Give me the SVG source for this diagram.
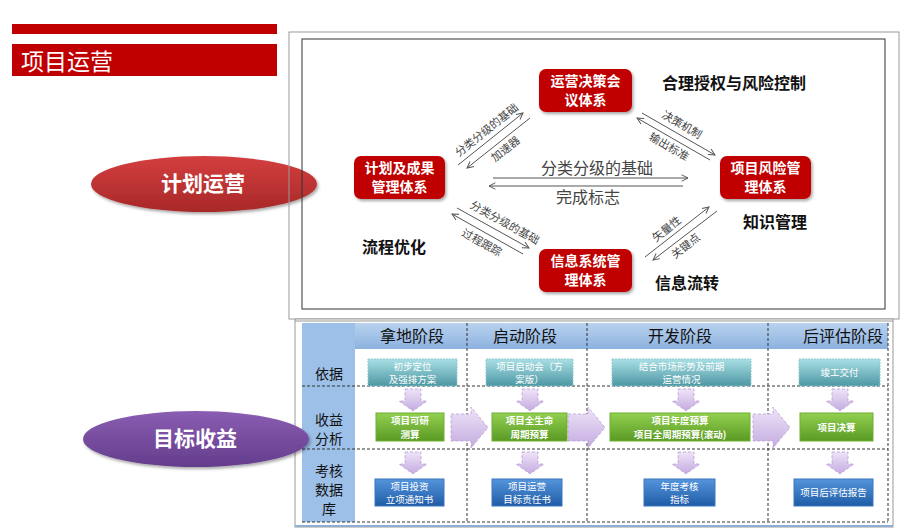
<svg xmlns="http://www.w3.org/2000/svg" width="923" height="529" viewBox="0 0 923 529">
<defs>
  <linearGradient id="gRedEl" x1="0" y1="0" x2="0" y2="1"><stop offset="0" stop-color="#d43f3f"/><stop offset="1" stop-color="#a82828"/></linearGradient>
  <linearGradient id="gPurEl" x1="0" y1="0" x2="0" y2="1"><stop offset="0" stop-color="#8a5db2"/><stop offset="1" stop-color="#643d8c"/></linearGradient>
  <linearGradient id="gHead" x1="0" y1="0" x2="0" y2="1"><stop offset="0" stop-color="#b9d2ef"/><stop offset="1" stop-color="#8cb2df"/></linearGradient>
  <linearGradient id="gTeal" x1="0" y1="0" x2="0" y2="1"><stop offset="0" stop-color="#a9dfe5"/><stop offset="1" stop-color="#4d97a3"/></linearGradient>
  <linearGradient id="gGreen" x1="0" y1="0" x2="0" y2="1"><stop offset="0" stop-color="#92d050"/><stop offset="1" stop-color="#5a9a24"/></linearGradient>
  <linearGradient id="gBlue" x1="0" y1="0" x2="0" y2="1"><stop offset="0" stop-color="#5595dc"/><stop offset="1" stop-color="#1f5ca6"/></linearGradient>
  <linearGradient id="gLav" x1="0" y1="0" x2="0" y2="1"><stop offset="0" stop-color="#eee4f8"/><stop offset="1" stop-color="#c4abe0"/></linearGradient>
  <filter id="sh" x="-20%" y="-20%" width="140%" height="150%"><feDropShadow dx="1.5" dy="2" stdDeviation="1.5" flood-color="#000" flood-opacity="0.35"/></filter>
  <marker id="ah" viewBox="0 0 10 10" refX="9" refY="5" markerWidth="8" markerHeight="8" orient="auto" markerUnits="userSpaceOnUse">
    <path d="M1,1 L9,5 L1,9" fill="none" stroke="#555" stroke-width="1.2"/>
  </marker>
  <path id="darr" d="M-8,0 H8 V12 H14 L0,22 L-14,12 H-8 Z"/>
  <path id="chev" d="M0,7 H20 V0 L37,20.5 L20,41 V34 H0 Z"/>
</defs>
<style>
  .cjk{font-family:"Noto Sans CJK SC","Noto Sans",sans-serif}
  .node rect{fill:#c00000;filter:url(#sh)}
  .node text{fill:#fff;font-size:14px;font-weight:bold;text-anchor:middle}
  .side{font-size:16px;font-weight:bold;fill:#111}
  .lbl{font-size:11px;fill:#444;text-anchor:middle}
  .conn line{stroke:#555;stroke-width:1;marker-end:url(#ah)}
  .hl{font-size:16px;fill:#444;text-anchor:middle}
  .dash{stroke:#333;stroke-width:1;stroke-dasharray:3,2;fill:none}
  .hdr{font-size:16px;fill:#111;text-anchor:middle}
  .rowl{font-size:14px;fill:#111;text-anchor:middle}
  .teal rect{fill:url(#gTeal);stroke:#8fc9cf;stroke-dasharray:2,1}
  .green rect{fill:url(#gGreen);stroke:#6fae34}
  .blue rect{fill:url(#gBlue);stroke:#3b77c0}
  .bx text{fill:#fff;font-size:9.5px;text-anchor:middle}
  .green text{font-weight:bold}
  .lav{fill:url(#gLav);stroke:#b9a0d6;stroke-width:0.8;stroke-dasharray:3,2}
</style>
<rect width="923" height="529" fill="#fff"/>

<!-- title -->
<g id="title">
  <rect x="12" y="24" width="265" height="10" fill="#c00000"/>
  <rect x="12" y="44" width="265" height="32" fill="#c00000"/>
  <text class="cjk" x="21" y="70" font-size="23" fill="#fff">项目运营</text>
</g>

<!-- ellipse 计划运营 -->
<g id="plan-ellipse">
  <ellipse cx="204" cy="184" rx="113" ry="28" fill="url(#gRedEl)" filter="url(#sh)"/>
  <text class="cjk" x="203" y="191" font-size="21" font-weight="bold" fill="#fff" text-anchor="middle">计划运营</text>
</g>

<!-- frames -->
<rect x="289" y="32" width="610" height="287" fill="none" stroke="#999" stroke-width="1"/>
<rect x="302" y="39" width="583" height="270" fill="none" stroke="#333" stroke-width="1"/>

<!-- nodes -->
<g id="n-decision" class="node cjk">
  <rect x="539" y="69" width="93" height="43" rx="7"/>
  <text x="585.5" y="86">运营决策会</text>
  <text x="585.5" y="105">议体系</text>
</g>
<g id="n-plan" class="node cjk">
  <rect x="354" y="156" width="91" height="43" rx="7"/>
  <text x="399.5" y="173">计划及成果</text>
  <text x="399.5" y="192">管理体系</text>
</g>
<g id="n-risk" class="node cjk">
  <rect x="720" y="156" width="91" height="43" rx="7"/>
  <text x="765.5" y="173">项目风险管</text>
  <text x="765.5" y="192">理体系</text>
</g>
<g id="n-info" class="node cjk">
  <rect x="539" y="249" width="93" height="43" rx="7"/>
  <text x="585.5" y="266">信息系统管</text>
  <text x="585.5" y="285">理体系</text>
</g>

<!-- side texts -->
<g id="t-auth"><text class="cjk side" x="662" y="89">合理授权与风险控制</text></g>
<g id="t-know"><text class="cjk side" x="743" y="228">知识管理</text></g>
<g id="t-flow"><text class="cjk side" x="655" y="289">信息流转</text></g>
<g id="t-opt"><text class="cjk side" x="362" y="253">流程优化</text></g>

<!-- connectors -->
<g id="connectors" class="conn">
  <line x1="493" y1="178" x2="688" y2="178"/>
  <line x1="683" y1="186" x2="489" y2="186"/>
  <line x1="458" y1="165" x2="523" y2="113"/>
  <line x1="530" y1="118" x2="467" y2="168"/>
  <line x1="642" y1="113" x2="715" y2="155"/>
  <line x1="710" y1="160" x2="637" y2="118"/>
  <line x1="457" y1="208" x2="529" y2="248"/>
  <line x1="523" y1="254" x2="452" y2="214"/>
  <line x1="645" y1="257" x2="709" y2="207"/>
  <line x1="717" y1="211" x2="653" y2="260"/>
</g>
<g id="connector-labels" class="cjk">
  <text class="hl" x="597" y="174">分类分级的基础</text>
  <text class="hl" x="588" y="203">完成标志</text>
  <text class="lbl" transform="translate(489,133) rotate(-38.7)">分类分级的基础</text>
  <text class="lbl" transform="translate(508,152) rotate(-38.7)">加速器</text>
  <text class="lbl" transform="translate(680,128) rotate(30)">决策机制</text>
  <text class="lbl" transform="translate(667,150) rotate(30)">输出标准</text>
  <text class="lbl" transform="translate(503,226) rotate(29)">分类分级的基础</text>
  <text class="lbl" transform="translate(480,246) rotate(29)">过程跟踪</text>
  <text class="lbl" transform="translate(669,232) rotate(-38)">矢量性</text>
  <text class="lbl" transform="translate(688,249) rotate(-38)">关键点</text>
</g>

<!-- lower table -->
<g id="table">
  <rect x="295" y="319" width="598" height="208" fill="#fff" stroke="#999"/>
  <line x1="295" y1="321" x2="893" y2="321" stroke="#999"/>
  <line x1="295" y1="526" x2="893" y2="526" stroke="#8eaed6" stroke-width="2"/>
  <rect x="302" y="323" width="586" height="26" fill="url(#gHead)"/>
  <rect x="302" y="323" width="53" height="199" fill="#9cc0e8"/>
  <g class="dash">
    <line x1="467" y1="323" x2="467" y2="522"/>
    <line x1="587" y1="323" x2="587" y2="522"/>
    <line x1="768" y1="323" x2="768" y2="522"/>
    <line x1="888" y1="323" x2="888" y2="522"/>
    <line x1="302" y1="386" x2="888" y2="386"/>
    <line x1="302" y1="449" x2="888" y2="449"/>
    <line x1="302" y1="522" x2="888" y2="522"/>
  </g>
  <g class="cjk">
    <text class="hdr" x="412" y="342">拿地阶段</text>
    <text class="hdr" x="525" y="342">启动阶段</text>
    <text class="hdr" x="680" y="342">开发阶段</text>
    <text class="hdr" x="843" y="342">后评估阶段</text>
    <text class="rowl" x="329" y="379">依据</text>
    <text class="rowl" x="329" y="425">收益</text>
    <text class="rowl" x="329" y="444">分析</text>
    <text class="rowl" x="329" y="476">考核</text>
    <text class="rowl" x="329" y="495">数据</text>
    <text class="rowl" x="329" y="514">库</text>
  </g>
</g>

<!-- flow arrows -->
<g id="flow-arrows">
  <use href="#darr" x="413" y="389" class="lav"/>
  <use href="#darr" x="530" y="389" class="lav"/>
  <use href="#darr" x="686" y="389" class="lav"/>
  <use href="#darr" x="840" y="389" class="lav"/>
  <use href="#darr" x="413" y="452" class="lav"/>
  <use href="#darr" x="530" y="452" class="lav"/>
  <use href="#darr" x="686" y="452" class="lav"/>
  <use href="#darr" x="840" y="452" class="lav"/>
  <use href="#chev" x="451" y="407" class="lav"/>
  <use href="#chev" x="568" y="407" class="lav"/>
  <use href="#chev" x="753" y="407" class="lav"/>
</g>

<!-- teal boxes -->
<g id="b-basis1" class="bx teal cjk">
  <rect x="368" y="359" width="89" height="27"/>
  <text x="412.5" y="370">初步定位</text><text x="412.5" y="383">及强排方案</text>
</g>
<g id="b-basis2" class="bx teal cjk">
  <rect x="486" y="359" width="87" height="27"/>
  <text x="529.5" y="370">项目启动会（方</text><text x="529.5" y="383">案版）</text>
</g>
<g id="b-basis3" class="bx teal cjk">
  <rect x="612" y="359" width="139" height="27"/>
  <text x="681.5" y="370">结合市场形势及前期</text><text x="681.5" y="383">运营情况</text>
</g>
<g id="b-basis4" class="bx teal cjk">
  <rect x="799" y="359" width="81" height="27"/>
  <text x="839.5" y="376">竣工交付</text>
</g>

<!-- green boxes -->
<g id="b-rev1" class="bx green cjk">
  <rect x="376" y="413" width="68" height="28"/>
  <text x="410" y="424">项目可研</text><text x="410" y="437.5">测算</text>
</g>
<g id="b-rev2" class="bx green cjk">
  <rect x="492" y="413" width="75" height="28"/>
  <text x="529.5" y="424">项目全生命</text><text x="529.5" y="437.5">周期预算</text>
</g>
<g id="b-rev3" class="bx green cjk">
  <rect x="610" y="413" width="140" height="28"/>
  <text x="680" y="424">项目年度预算</text><text x="680" y="437.5">项目全周期预算(滚动)</text>
</g>
<g id="b-rev4" class="bx green cjk">
  <rect x="800" y="413" width="73" height="28"/>
  <text x="836.5" y="431">项目决算</text>
</g>

<!-- blue boxes -->
<g id="b-db1" class="bx blue cjk">
  <rect x="375" y="479" width="69" height="27"/>
  <text x="409.5" y="490">项目投资</text><text x="409.5" y="503">立项通知书</text>
</g>
<g id="b-db2" class="bx blue cjk">
  <rect x="492" y="479" width="70" height="27"/>
  <text x="527" y="490">项目运营</text><text x="527" y="503">目标责任书</text>
</g>
<g id="b-db3" class="bx blue cjk">
  <rect x="644" y="479" width="71" height="27"/>
  <text x="679.5" y="490">年度考核</text><text x="679.5" y="503">指标</text>
</g>
<g id="b-db4" class="bx blue cjk">
  <rect x="794" y="479" width="79" height="27"/>
  <text x="833.5" y="496">项目后评估报告</text>
</g>

<!-- ellipse 目标收益 -->
<g id="goal-ellipse">
  <ellipse cx="196" cy="439" rx="113" ry="28" fill="url(#gPurEl)" filter="url(#sh)"/>
  <text class="cjk" x="195" y="446" font-size="21" font-weight="bold" fill="#fff" text-anchor="middle">目标收益</text>
</g>
</svg>
